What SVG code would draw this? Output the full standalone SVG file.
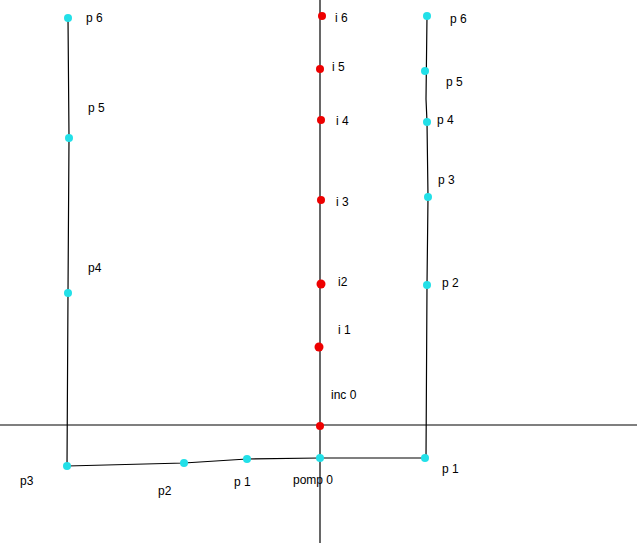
<svg xmlns="http://www.w3.org/2000/svg" width="637" height="543" viewBox="0 0 637 543">
<style>
.ln{stroke:#000;stroke-width:1.2;fill:none}
.c{fill:#22e0e8}
.r{fill:#ee0000}
text{font-family:"Liberation Sans",Arial,sans-serif;font-size:12px;fill:#000}
</style>
<rect width="637" height="543" fill="#fff"/>
<g id="connectors">
<line class="ln" x1="0" y1="425" x2="637" y2="425"/>
<line class="ln" x1="320" y1="0" x2="320" y2="543"/>
<polyline class="ln" points="68,18 69,138 68,293 67,466"/>
<polyline class="ln" points="427,16 426,99 427,122 428,197 427,285 426,458"/>
<polyline class="ln" points="67,466 184,463 247,459 320,458 425,458"/>
</g>
<g id="left-p6"><circle class="c" cx="68" cy="18" r="4"/><text x="86" y="22">p 6</text></g>
<g id="left-p5"><circle class="c" cx="69" cy="138" r="4"/><text x="88" y="112">p 5</text></g>
<g id="left-p4"><circle class="c" cx="68" cy="293" r="4"/><text x="88" y="272">p4</text></g>
<g id="left-p3"><circle class="c" cx="67" cy="466" r="4"/><text x="20" y="485">p3</text></g>
<g id="bot-p2"><circle class="c" cx="184" cy="463" r="4"/><text x="158" y="495">p2</text></g>
<g id="bot-p1"><circle class="c" cx="247" cy="459" r="4"/><text x="234" y="486">p 1</text></g>
<g id="pomp0"><circle class="c" cx="320" cy="458" r="4"/><text x="293" y="484">pomp 0</text></g>
<g id="right-p1"><circle class="c" cx="425" cy="458" r="4"/><text x="442" y="473">p 1</text></g>
<g id="right-p2"><circle class="c" cx="427" cy="285" r="4"/><text x="442" y="287">p 2</text></g>
<g id="right-p3"><circle class="c" cx="428" cy="197" r="4"/><text x="438" y="184">p 3</text></g>
<g id="right-p4"><circle class="c" cx="427" cy="122" r="4"/><text x="437" y="124">p 4</text></g>
<g id="right-p5"><circle class="c" cx="425" cy="71" r="4"/><text x="446" y="86">p 5</text></g>
<g id="right-p6"><circle class="c" cx="427" cy="16" r="4"/><text x="450" y="23">p 6</text></g>
<g id="inc0"><circle class="r" cx="320" cy="426" r="4"/><text x="331" y="399">inc 0</text></g>
<g id="i1"><circle class="r" cx="319" cy="347" r="4.5"/><text x="338" y="334">i 1</text></g>
<g id="i2"><circle class="r" cx="321" cy="284" r="4.5"/><text x="338" y="286">i2</text></g>
<g id="i3"><circle class="r" cx="321" cy="200" r="4"/><text x="336" y="206">i 3</text></g>
<g id="i4"><circle class="r" cx="321" cy="120" r="4"/><text x="336" y="125">i 4</text></g>
<g id="i5"><circle class="r" cx="320" cy="69" r="4"/><text x="332" y="71">i 5</text></g>
<g id="i6"><circle class="r" cx="322" cy="16" r="4"/><text x="335" y="22">i 6</text></g>
</svg>
